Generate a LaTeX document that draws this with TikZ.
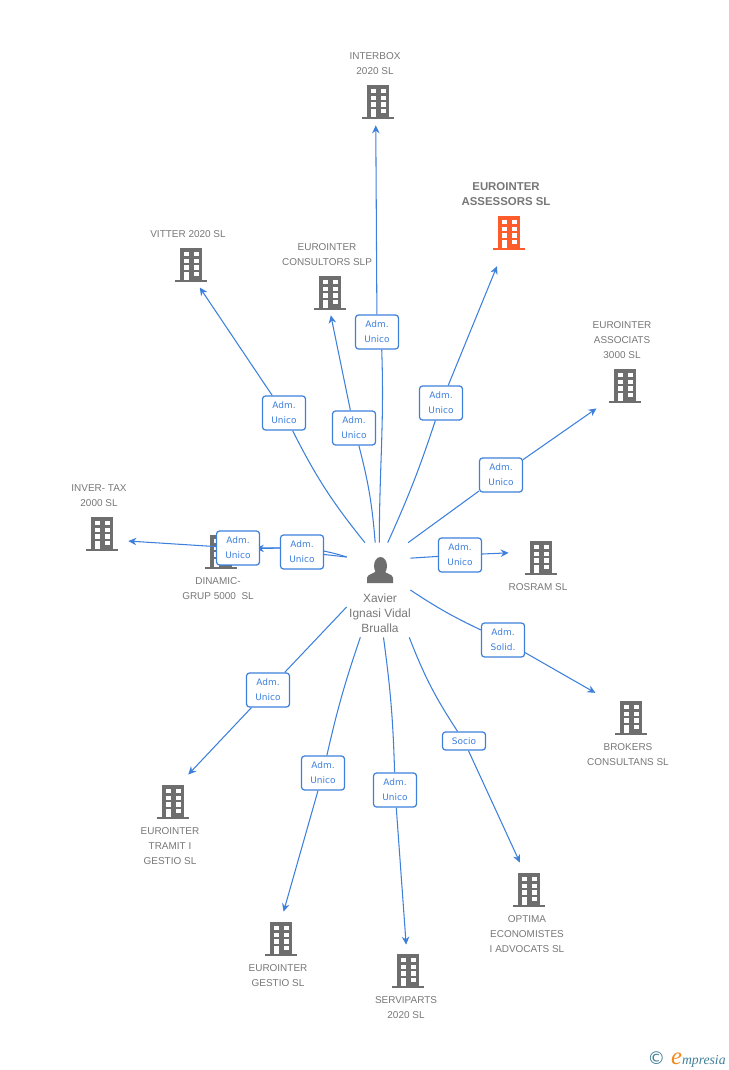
\documentclass[tikz,border=0pt]{standalone}
\usepackage{fontspec}
\setmainfont{Liberation Sans}
\newfontfamily\lblfont{DejaVu Sans}
\newfontfamily\logofont{Liberation Serif}
\usepackage{xcolor}
\usetikzlibrary{arrows.meta, backgrounds}
\definecolor{iconGray}{HTML}{6E6E6E}
\definecolor{textGray}{HTML}{777777}
\definecolor{linkBlue}{HTML}{3D80DC}
\definecolor{mainOrange}{HTML}{FF5C2B}
\definecolor{logoTeal}{HTML}{3F7F96}
\definecolor{logoOrange}{HTML}{F08A1D}

\begin{document}
\begin{tikzpicture}[
    x=0.02cm, y=-0.02cm,
    % Styles
    bldg/.style={
        rectangle, inner sep=0pt,
        minimum width=0.7cm, minimum height=0.72cm,
        path picture={
            \begin{scope}[shift={(path picture bounding box.center)}]
                \fill[#1] (-16,15) rectangle (16,17);
                \fill[#1] (-11,-17) rectangle (11,15);
                \fill[white] (-7,-13) rectangle (-2,-9);
                \fill[white] (3,-13) rectangle (8,-9);
                \fill[white] (-7,-6) rectangle (-2,-2);
                \fill[white] (3,-6) rectangle (8,-2);
                \fill[white] (-7,0) rectangle (-2,5);
                \fill[white] (3,0) rectangle (8,5);
                \fill[white] (-7,7) rectangle (-2,15);
                \fill[white] (3,7) rectangle (8,11);
            \end{scope}
        }
    },
    bldg/.default=iconGray,
    person/.style={
        rectangle, inner sep=0pt,
        minimum width=1.26cm, minimum height=1.88cm,
        path picture={
            \begin{scope}[shift={(path picture bounding box.center)}]
                \fill[iconGray] (2,-24) ellipse (6.5 and 9);
                \fill[iconGray] (-11.5,-7) -- (-11.5,-12)
                    .. controls (-11.5,-16) and (-4.5,-16) .. (-2.5,-19) -- (5.5,-19)
                    .. controls (7.5,-16) and (14.5,-16) .. (14.5,-12) -- (14.5,-7) -- cycle;
            \end{scope}
        }
    },
    coname/.style={
        text=textGray, align=center, inner sep=0pt,
        font=\fontsize{5.67}{8.5}\selectfont
    },
    lbl/.style={
        rectangle, rounded corners=0.06cm,
        minimum width=0.86cm, minimum height=0.68cm, inner sep=0pt,
        draw=linkBlue, line width=0.7pt, fill=white,
        text=linkBlue, align=center,
        font=\lblfont\fontsize{5.1}{8.5}\selectfont
    },
    link/.style={draw=linkBlue, line width=0.6pt},
    arrow/.style={link, -{Stealth[length=1.6mm, width=1.5mm]}, shorten >=#1*0.02cm}
]
\useasboundingbox (0,0) rectangle (728,1070);

% === PERSON ===
\node (hub) [person] at (378.5,590) {};
\node (hubname) [coname, font=\fontsize{6.8}{8.5}\selectfont] at (380,613) {Xavier\\Ignasi Vidal\\Brualla};

% === RELATION LABELS ===
\node (lInterbox) [lbl] at (377,332) {Adm.\\Unico};
\node (lVitter) [lbl] at (284,413) {Adm.\\Unico};
\node (lConsultors) [lbl] at (354,428) {Adm.\\Unico};
\node (lAssessors) [lbl] at (441,403) {Adm.\\Unico};
\node (lAssociats) [lbl] at (501,475) {Adm.\\Unico};
\node (lRosram) [lbl] at (460,555) {Adm.\\Unico};
\node (lBrokers) [lbl] at (503,640) {Adm.\\Solid.};
\node (lOptima) [lbl, minimum height=0.36cm] at (464,741) {Socio};
\node (lServiparts) [lbl] at (395,790) {Adm.\\Unico};
\node (lGestio) [lbl] at (323,773) {Adm.\\Unico};
\node (lTramit) [lbl] at (268,690) {Adm.\\Unico};
\node (lDinamic) [lbl] at (302,552) {Adm.\\Unico};
\node (lInver) [lbl] at (238,548) {Adm.\\Unico};

% === COMPANY NAMES ===
\node (nInterbox) [coname] at (375,64) {INTERBOX\\2020 SL};
\node (nVitter) [coname] at (188,234) {VITTER 2020 SL};
\node (nConsultors) [coname] at (327,255) {EUROINTER\\CONSULTORS SLP};
\node (nAssessors) [coname, font=\bfseries\fontsize{6.5}{8.5}\selectfont] at (506,194) {EUROINTER\\ASSESSORS SL};
\node (nAssociats) [coname] at (622,340) {EUROINTER\\ASSOCIATS\\3000 SL};
\node (nRosram) [coname] at (538,587) {ROSRAM SL};
\node (nBrokers) [coname] at (628,755) {BROKERS\\CONSULTANS SL};
\node (nOptima) [coname] at (527,934) {OPTIMA\\ECONOMISTES\\I ADVOCATS SL};
\node (nServiparts) [coname] at (406,1008) {SERVIPARTS\\2020 SL};
\node (nGestio) [coname] at (278,976) {EUROINTER\\GESTIO SL};
\node (nTramit) [coname] at (170,846) {EUROINTER\\TRAMIT I\\GESTIO SL};
\node (nDinamic) [coname] at (218,589) {DINAMIC-\\GRUP 5000\ \ SL};
\node (nInver) [coname] at (99,496) {INVER- TAX\\2000 SL};

\begin{pgfonlayer}{background}
% === COMPANIES ===
\node (bInterbox) [bldg] at (378,102) {};
\node (bVitter) [bldg] at (191,265) {};
\node (bConsultors) [bldg] at (330,293) {};
\node (bAssessors) [bldg=mainOrange] at (509,233) {};
\node (bAssociats) [bldg] at (625,386) {};
\node (bRosram) [bldg] at (541,558) {};
\node (bBrokers) [bldg] at (631,718) {};
\node (bOptima) [bldg] at (529,890) {};
\node (bServiparts) [bldg] at (408,971) {};
\node (bGestio) [bldg] at (281,939) {};
\node (bTramit) [bldg] at (173,802) {};
\node (bDinamic) [bldg] at (221,552) {};
\node (bInver) [bldg] at (102,534) {};

% === CONNECTORS ===
% Person to label
\draw [link] (hub.89.4) to [out=90, in=-88] (lInterbox.-75);
\draw [link] (hub.106) to [bend left=6] (lVitter);
\draw [link] (hub.94.3) to [bend right=5] (lConsultors);
\draw [link] (hub.79.8) to [bend right=3] (lAssessors);
\draw [link] (hub.58.8) -- (lAssociats);
\draw [link] (hub.45.4) -- (lRosram);
\draw [link] (hub.0) to [bend right=4] (lBrokers);
\draw [link] (hub.-57) to [bend right=6] (lOptima);
\draw [link] (hub.-84.5) to [bend left=3] (lServiparts);
\draw [link] (hub.-111.5) to [bend right=3] (lGestio);
\draw [link] (hub.208.4) -- (lTramit);
\draw [link] (hub.134.6) -- (lDinamic);
\draw [link] (hub.134.6) to [out=162, in=0] (lInver);

% Label to company
\draw [arrow=5] (lInterbox) -- (bInterbox.-97);
\draw [arrow=5] (lVitter) -- (bVitter.-72);
\draw [arrow=4] (lConsultors) -- (bConsultors.south);
\draw [arrow=16] (lAssessors) -- (bAssessors.-108);
\draw [arrow=13] (lAssociats) -- (bAssociats.220);
\draw [arrow=14.5] (lRosram) -- (bRosram.162.6);
\draw [arrow=20.5] (lBrokers) -- (bBrokers.140.6);
\draw [arrow=10] (lOptima) -- (bOptima.105.5);
\draw [arrow=8] (lServiparts) -- (bServiparts.94.5);
\draw [arrow=9.4] (lGestio) -- (bGestio.north);
\draw [arrow=12.5] (lTramit) -- (bTramit.70);
\draw [arrow=17] (lDinamic.170) -- (bDinamic.10);
\draw [arrow=8.5] (lInver) -- (bInver.-20);
\end{pgfonlayer}

% === LOGO ===
\node (logo) [inner sep=0pt, text=logoTeal, font=\logofont\itshape\fontsize{7.8}{8}\selectfont, anchor=east] at (726,1060)
    {{\lblfont\upshape\fontsize{10}{8}\selectfont\textcopyright}\hspace{0.12cm}{\color{logoOrange}\fontsize{14}{8}\selectfont e}mpresia};
\end{tikzpicture}
\end{document}
